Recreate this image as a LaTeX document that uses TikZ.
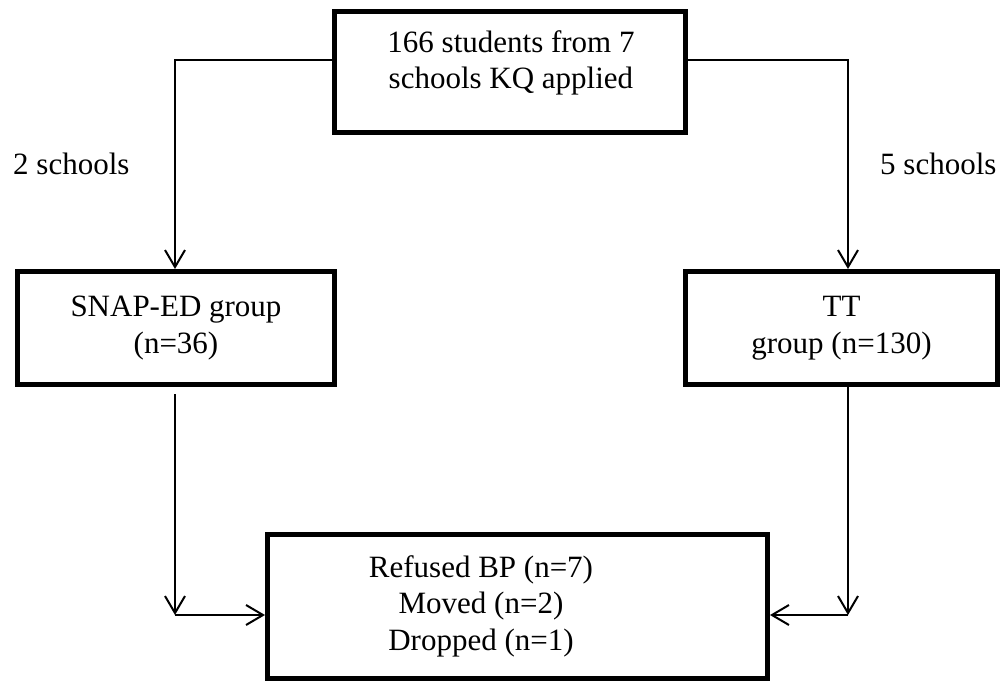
\documentclass[tikz,border=0pt]{standalone}
\usepackage{fontspec}
\setmainfont{Liberation Serif}
\usetikzlibrary{arrows.meta,calc}
\newcommand\mainfs{\fontsize{31}{36.5}\selectfont}
\begin{document}
\begin{tikzpicture}[x=1pt,y=-1pt,
  box/.style={draw, line width=5pt, rectangle, inner sep=0pt, align=center, font=\mainfs, line join=miter},
  txt/.style={font=\mainfs, align=center, inner sep=0pt},
  conn/.style={line width=2pt, line join=miter, -{Straight Barb[length=17pt,width=20pt,line width=2pt]}}]
\useasboundingbox (0,0) rectangle (1003,682);
% boxes
\node[box, minimum width=351pt, minimum height=121pt] (top) at (510,72) {};
\node[txt] (toptext) at (511,63) {166 students from 7\\schools KQ applied};
\node[box, minimum width=317pt, minimum height=113pt] (snap) at (176,328) {SNAP-ED group\\(n=36)};
\node[box, minimum width=312pt, minimum height=113pt] (tt) at (841.5,328) {TT\\group (n=130)};
\node[box, minimum width=500pt, minimum height=144pt] (bot) at (517.5,606.5) {};
\node[txt] (bottext) at (481,606) {Refused BP (n=7)\\Moved (n=2)\\Dropped (n=1)};
% labels
\node[txt, anchor=base west] (lab2) at (13,174) {2 schools};
\node[txt, anchor=base west] (lab5) at (880,174) {5 schools};
% connectors
\coordinate (tl) at (175,60);
\coordinate (tr) at (848,60);
\draw[conn] (top.west |- tl) -| (snap.north -| tl);
\draw[conn] (top.east |- tr) -| (tt.north -| tr);
\coordinate (ls) at (175,394);
\coordinate (bl) at (175,615);
\coordinate (br) at (848,615);
\draw[conn] (ls) -- (bl);
\draw[conn] (bl) -- (bot.west |- bl);
\draw[conn] (tt.south -| br) -- (br);
\draw[conn] (br) -- (bot.east |- br);
\end{tikzpicture}
\end{document}
